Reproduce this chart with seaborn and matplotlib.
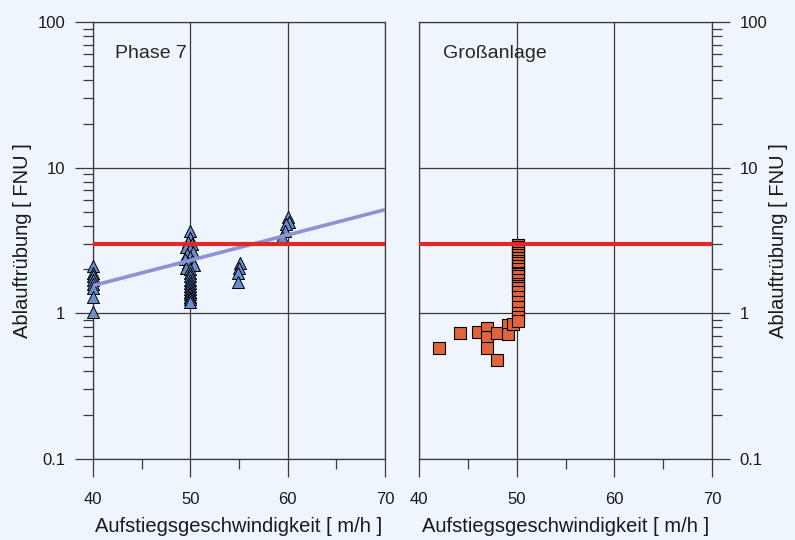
import pandas as pd
import matplotlib.pyplot as plt
import seaborn as sns
from matplotlib.ticker import LogLocator, MultipleLocator, NullFormatter

sns.set_style('white')
plt.rcParams['font.family'] = ['Liberation Sans', 'DejaVu Sans']

# Phase 7 (Dreiecke)
phase7_x = [40, 40, 40, 40, 40, 40, 40, 40,
            50, 50, 49.8, 50.2, 49.6, 50, 50.3, 49.7, 50, 49.5, 50.2, 49.8, 50.4,
            49.6, 50, 50, 50, 50, 50, 50, 50, 50, 50, 50, 50, 50,
            55.1, 55, 54.9, 54.9,
            60, 60.1, 59.8, 59.7, 59.4]
phase7_y = [2.1, 1.9, 1.8, 1.7, 1.6, 1.5, 1.3, 1.02,
            3.65, 3.3, 3.1, 3.0, 2.85, 2.75, 2.65, 2.55, 2.45, 2.35, 2.3, 2.2, 2.15,
            2.05, 2.0, 1.9, 1.8, 1.7, 1.62, 1.55, 1.48, 1.4, 1.35, 1.3, 1.25, 1.2,
            2.2, 2.05, 1.9, 1.65,
            4.55, 4.25, 4.1, 3.7, 3.35]

# Großanlage (Quadrate)
gross_x = [42, 44.2, 46, 47, 47, 47, 48, 48, 49.1, 49.1, 49.6,
           50.1, 50.1, 50.1, 50.1, 50.1, 50.1, 50.1, 50.1, 50.1, 50.1, 50.1, 50.1,
           50.1, 50.1, 50.1, 50.1, 50.1, 50.1, 50.1, 50.1, 50.1, 50.1, 50.1, 50.1]
gross_y = [0.575, 0.73, 0.745, 0.79, 0.685, 0.575, 0.73, 0.475, 0.83, 0.72, 0.85,
           2.95, 2.85, 2.7, 2.6, 2.5, 2.4, 2.3, 2.2, 2.1, 2.0, 1.9, 1.85,
           1.8, 1.7, 1.6, 1.55, 1.5, 1.4, 1.3, 1.2, 1.1, 1.0, 0.95, 0.88]

# Trendlinie Phase 7 und Grenzwert
trend_x = [40, 70]
trend_y = [1.55, 5.15]
limit_x = [40, 70]
limit_y = [3.0, 3.0]

x_ticks = [40, 50, 60, 70]
y_ticks = [0.1, 1, 10, 100]
y_tick_labels = ['0.1', '1', '10', '100']

df_p7 = pd.DataFrame({'x': phase7_x, 'y': phase7_y})
df_gr = pd.DataFrame({'x': gross_x, 'y': gross_y})
df_trend = pd.DataFrame({'x': trend_x, 'y': trend_y})
df_limit = pd.DataFrame({'x': limit_x, 'y': limit_y})

bg = '#EEF5FC'
grid_col = '#3a3a3a'

fig = plt.figure(figsize=(7.95, 5.4), dpi=100, facecolor=bg)
ax1 = fig.add_axes([93 / 795, 81 / 540, 292 / 795, 437 / 540])
ax2 = fig.add_axes([419 / 795, 81 / 540, 293 / 795, 437 / 540])

sns.scatterplot(data=df_p7, x='x', y='y', marker='^', s=75, color='#6A8DCB',
                edgecolor='black', linewidth=0.7, ax=ax1, zorder=3, clip_on=False)
sns.lineplot(data=df_trend, x='x', y='y', color='#8E92D0', lw=2.6, ax=ax1, zorder=4)
sns.lineplot(data=df_limit, x='x', y='y', color='#E0282A', lw=3, ax=ax1, zorder=5)

sns.scatterplot(data=df_gr, x='x', y='y', marker='s', s=70, color='#E2643A',
                edgecolor='black', linewidth=0.8, ax=ax2, zorder=3, clip_on=False)
sns.lineplot(data=df_limit, x='x', y='y', color='#E0282A', lw=3, ax=ax2, zorder=5)

for ax in (ax1, ax2):
    ax.set_facecolor(bg)
    ax.set_yscale('log')
    ax.set_xlim(40, 70)
    ax.set_ylim(0.1, 100)
    ax.set_xticks(x_ticks)
    ax.xaxis.set_minor_locator(MultipleLocator(5))
    ax.set_yticks(y_ticks, y_tick_labels)
    ax.yaxis.set_minor_locator(LogLocator(base=10, subs=range(2, 10)))
    ax.yaxis.set_minor_formatter(NullFormatter())
    ax.grid(True, which='major', color=grid_col, lw=0.9)
    ax.set_axisbelow(True)
    for sp in ax.spines.values():
        sp.set_color(grid_col)
        sp.set_linewidth(0.9)
    ax.tick_params(which='major', direction='out', length=13, width=0.9,
                   color=grid_col, labelsize=12, labelcolor='#1a1a1a')
    ax.tick_params(which='minor', direction='out', length=7, width=0.9, color=grid_col)
    ax.tick_params(axis='x', which='both', bottom=True, top=False)
    ax.tick_params(axis='x', which='major', pad=11)
    ax.tick_params(axis='y', which='major', pad=7)
    ax.set_xlabel('Aufstiegsgeschwindigkeit [ m/h ]', fontsize=14.5, labelpad=7, color='#1a1a1a')
    ax.set_ylabel('Ablauftrübung [ FNU ]', fontsize=14.5, color='#1a1a1a')

ax1.tick_params(axis='y', which='both', left=True, right=False)
ax1.yaxis.labelpad = 4
ax2.yaxis.tick_right()
ax2.yaxis.set_label_position('right')
ax2.tick_params(axis='y', which='both', left=False, right=True)
ax2.yaxis.labelpad = 1

ax1.text(0.075, 0.918, 'Phase 7', transform=ax1.transAxes, fontsize=14, va='baseline')
ax2.text(0.082, 0.918, 'Großanlage', transform=ax2.transAxes, fontsize=14, va='baseline')

fig.savefig('out.png', dpi=100, facecolor=bg)
